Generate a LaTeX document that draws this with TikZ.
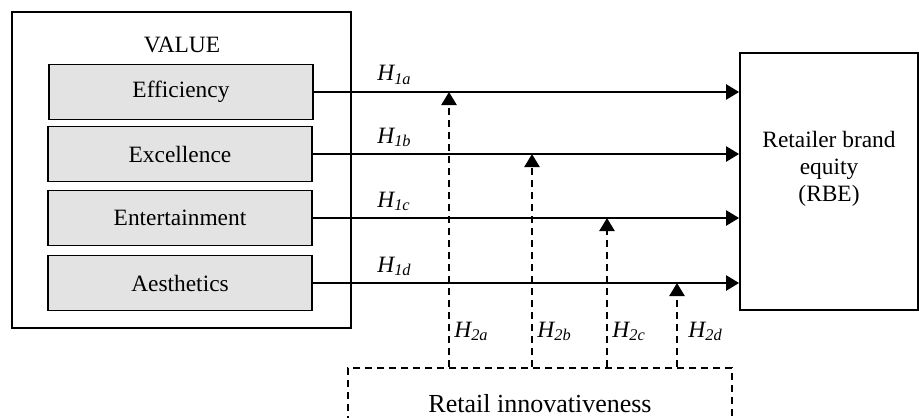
\documentclass[tikz,border=0pt]{standalone}
\usepackage{fontspec}
\setmainfont{Liberation Serif}
\usetikzlibrary{arrows.meta}

\begin{document}
\begin{tikzpicture}[x=0.5pt,y=-0.5pt,
  txt/.style={font=\fontsize{11.7}{13.5}\selectfont},
  dim/.style={txt,draw,fill=gray!22,line width=0.8pt,minimum width=132pt,minimum height=27.5pt},
  arr/.style={line width=1.2pt,-{Triangle[length=6.5pt,width=7.5pt]}},
  darr/.style={arr,dash pattern=on 3.5pt off 2.5pt},
  hlab/.style={txt,anchor=base west,inner sep=0pt,font=\fontsize{11.7}{13.5}\selectfont\itshape}]
  \useasboundingbox (0,0) rectangle (919,417);
  \clip (0,0) rectangle (919,417);
  \draw[line width=0.8pt] (12,12) rectangle (351,328);
  \node[txt] (value) at (182,45) {VALUE};
  \node[dim] (eff) at (181,92) {Efficiency};
  \node[dim] (exc) at (180,154) {Excellence};
  \node[dim] (ent) at (180,218) {Entertainment};
  \node[dim] (aes) at (180,283) {Aesthetics};
  \node[draw,line width=0.9pt,minimum width=89pt,minimum height=128.5pt] (rbe) at (829,181.5) {};
  \node[txt,align=center] (rbetext) at (829,169) {Retailer brand\\equity\\(RBE)};
  \node[draw,dash pattern=on 3.5pt off 2.5pt,line width=1pt,minimum width=192pt,minimum height=36pt,
    font=\fontsize{13}{15}\selectfont] (innov) at (540,404) {Retail innovativeness};
  \draw[arr] (eff.east) -- (rbe.west |- eff.east);
  \draw[arr] (exc.east) -- (rbe.west |- exc.east);
  \draw[arr] (ent.east) -- (rbe.west |- ent.east);
  \draw[arr] (aes.east) -- (rbe.west |- aes.east);
  \node[hlab] (h1a) at (377,81) {H\textsubscript{1a}};
  \node[hlab] (h1b) at (377,143) {H\textsubscript{1b}};
  \node[hlab] (h1c) at (377,207) {H\textsubscript{1c}};
  \node[hlab] (h1d) at (377,272) {H\textsubscript{1d}};
  \coordinate (ma) at (449,0 |- eff.east);
  \coordinate (mb) at (532,0 |- exc.east);
  \coordinate (mc) at (607,0 |- ent.east);
  \coordinate (md) at (677,0 |- aes.east);
  \draw[darr] (innov.north -| ma) -- (ma);
  \draw[darr] (innov.north -| mb) -- (mb);
  \draw[darr] (innov.north -| mc) -- (mc);
  \draw[darr] (innov.north -| md) -- (md);
  \node[hlab] (h2a) at (454,337) {H\textsubscript{2a}};
  \node[hlab] (h2b) at (537,337) {H\textsubscript{2b}};
  \node[hlab] (h2c) at (612,337) {H\textsubscript{2c}};
  \node[hlab] (h2d) at (688,337) {H\textsubscript{2d}};
\end{tikzpicture}
\end{document}
